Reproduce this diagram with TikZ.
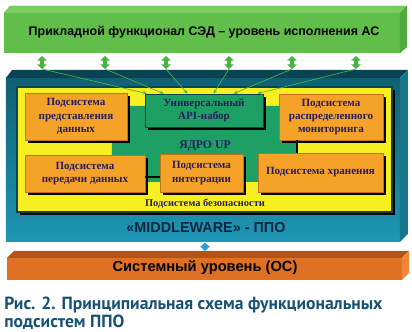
\documentclass[tikz,border=0pt]{standalone}
\usepackage{fontspec}
\setmainfont{Liberation Serif}
\setsansfont{Liberation Sans}
\newfontfamily\capfont{PT Sans}
\usetikzlibrary{arrows.meta,shadows,calc}
\definecolor{barg}{RGB}{98,190,74}
\definecolor{bargtop}{RGB}{120,204,96}
\definecolor{bargside}{RGB}{78,170,60}
\definecolor{arrg}{RGB}{72,178,68}
\definecolor{tealtop}{RGB}{10,68,82}
\definecolor{tealdk}{RGB}{16,96,114}
\definecolor{teallt}{RGB}{30,150,180}
\definecolor{tealside}{RGB}{22,118,140}
\definecolor{yel}{RGB}{246,240,34}
\definecolor{orf}{RGB}{245,162,40}
\definecolor{orb}{RGB}{196,112,24}
\definecolor{coreg}{RGB}{30,160,100}
\definecolor{ink}{RGB}{38,30,96}
\definecolor{midink}{RGB}{14,36,60}
\definecolor{osf}{RGB}{224,112,36}
\definecolor{ostop}{RGB}{176,84,24}
\definecolor{osside}{RGB}{242,134,52}
\definecolor{link}{RGB}{40,160,212}
\definecolor{capc}{RGB}{22,82,116}

\begin{document}
\begin{tikzpicture}[x=0.75pt,y=-0.75pt,
    sub/.style={draw=orb,line width=0.6pt,fill=orf,text=ink,
                font=\fontsize{8.3}{10}\selectfont\bfseries,align=center,inner sep=1pt,
                drop shadow={shadow xshift=2.3pt,shadow yshift=-2.3pt,fill=black,opacity=1}},
    dbl/.style={{Triangle[width=7pt,length=3.5pt]}-{Triangle[width=7pt,length=3.5pt]},
                line width=2.6pt,arrg},
    fan/.style={-{Stealth[length=3pt,width=2.6pt]},line width=0.5pt,arrg},
    tie/.style={line width=2pt,black}]
  \useasboundingbox (0,0) rectangle (412,332);

  % application level
  \fill[barg] (4,13) -- (10,6) -- (407,6) -- (407,47) -- (400,53) -- (4,53) -- cycle;
  \fill[bargtop] (4,13) -- (10,6) -- (407,6) -- (400,13) -- cycle;
  \fill[bargside] (400,13) -- (407,6) -- (407,47) -- (400,53) -- cycle;
  \node[font=\sffamily\bfseries\fontsize{9.35}{10}\selectfont] (app) at (204,32)
    {Прикладной функционал СЭД – уровень исполнения АС};

  % middleware
  \shade[top color=tealdk,bottom color=teallt] (6,78) rectangle (400,242);
  \fill[tealtop] (6,78) -- (12,70) -- (408,70) -- (400,78) -- cycle;
  \fill[tealside] (400,78) -- (408,70) -- (408,234) -- (400,242) -- cycle;
  \node[draw=tealtop,line width=0.8pt,fill=yel,minimum width=281.25pt,minimum height=93.75pt,
        drop shadow={shadow xshift=2.3pt,shadow yshift=-2.3pt,fill=black,opacity=1}]
    (sec) at (204.5,149.5) {};
  \node[fill=coreg,rounded corners=2pt,minimum width=138.75pt,minimum height=57pt]
    (core) at (204.5,144) {};
  \node[text=ink,font=\fontsize{8.8}{10}\selectfont\bfseries] (corel) at (205,146) {ЯДРО UP};

  \node[sub,minimum width=76.5pt,minimum height=35.25pt] (pres) at (76,116.5)
    {Подсистема\\представления\\данных};
  \node[sub,fill=coreg,draw=tealtop,minimum width=88.5pt,minimum height=24.75pt] (api) at (204,110.5)
    {Универсальный\\API-набор};
  \node[sub,minimum width=78pt,minimum height=34.5pt] (mon) at (331,117)
    {Подсистема\\распределенного\\мониторинга};
  \node[sub,minimum width=90pt,minimum height=27.75pt] (xfer) at (85,173.5)
    {Подсистема\\передачи данных};
  \node[sub,minimum width=62.25pt,minimum height=28.5pt] (integ) at (201.5,173)
    {Подсистема\\интеграции};
  \node[sub,minimum width=93.75pt,minimum height=29.25pt] (store) at (320.5,172.5)
    {Подсистема хранения};
  \draw[tie] ([xshift=-25.5pt]mon.south) -- ([xshift=-25.5pt]mon.south |- store.north);
  \draw[tie] ([yshift=-2.6pt]xfer.east) -- ([yshift=-2.6pt]xfer.east -| integ.west);

  \node[text=ink,font=\fontsize{7.8}{9}\selectfont\bfseries] (secl) at (205,204)
    {Подсистема безопасности};
  \node[text=midink,font=\sffamily\bfseries\fontsize{10.8}{12}\selectfont] (mid) at (206,228)
    {«MIDDLEWARE» - ППО};

  \foreach \i/\x/\f in {1/42/0.02,2/105/0.16,3/166/0.36,4/229/0.58,5/292/0.75,6/356/0.95} {
    \coordinate (u\i) at (\x,56);
    \coordinate (d\i) at (\x,69);
    \draw[dbl] (u\i) -- (d\i);
    \draw[fan] (d\i) -- ($(api.north west)!\f!(api.north east)$);
  }

  % system level
  \fill[ostop] (7,258) -- (14,251) -- (409,251) -- (402,258) -- cycle;
  \fill[osf] (7,258) rectangle (402,280);
  \fill[osside] (402,258) -- (409,251) -- (409,273) -- (402,280) -- cycle;
  \node[font=\sffamily\bfseries\fontsize{11}{12}\selectfont] (os) at (205,268)
    {Системный уровень (ОС)};
  \coordinate (mb) at (205,242.5);
  \coordinate (ot) at (205,251);
  \draw[dbl,link,line width=2pt] (mb) -- (ot);

  \node[anchor=north west,align=left,inner sep=0pt,text=capc,
        font=\capfont\bfseries\fontsize{13.2}{11.6}\selectfont] (cap) at (4,297)
    {Рис. 2. Принципиальная схема функциональных\\подсистем ППО};
\end{tikzpicture}
\end{document}
